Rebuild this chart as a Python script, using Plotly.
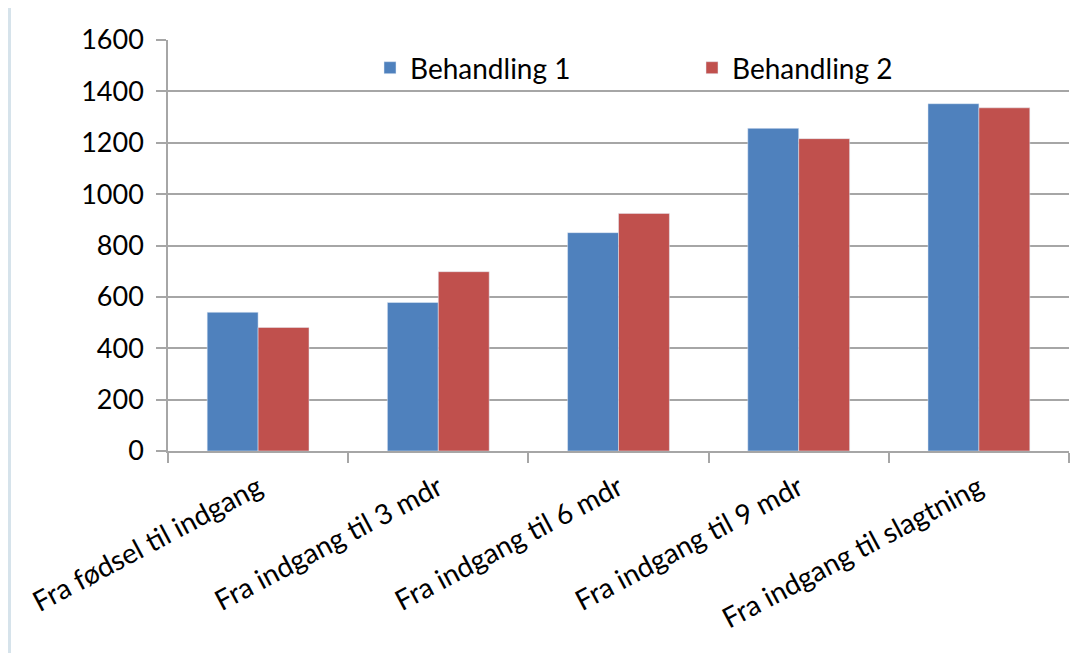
import plotly.graph_objects as go

categories = [
    "Fra fødsel til indgang",
    "Fra indgang til 3 mdr",
    "Fra indgang til 6 mdr",
    "Fra indgang til 9 mdr",
    "Fra indgang til slagtning",
]
behandling_1 = [540, 578, 850, 1256, 1352]
behandling_2 = [481, 698, 925, 1216, 1336]

BLUE = "#4f81bd"
RED = "#c0504d"
GRID = "#a6a6a6"
BORDER = "#d6e3eb"
FONT = "Lato, Carlito, Calibri, sans-serif"

# the page puts the figure 8px in from the top-left corner
W, H = 1076, 645
ML, MR, MT, MB = 160, 15, 32, 202
pw = W - ML - MR
ph = H - MT - MB


def px_x(x):
    return (x - ML) / pw


def px_y(y):
    return (MT + ph - y) / ph


fig = go.Figure()
fig.add_trace(go.Bar(x=categories, y=behandling_1, name="Behandling 1", marker_color=BLUE))
fig.add_trace(go.Bar(x=categories, y=behandling_2, name="Behandling 2", marker_color=RED))

# light blue frame at the left edge
fig.add_shape(
    type="rect", xref="paper", yref="paper",
    x0=px_x(-5), x1=px_x(3), y0=px_y(H + 5), y1=px_y(-5),
    fillcolor=BORDER, line_width=0, layer="below",
)

fig.update_layout(
    width=W,
    height=H,
    margin=dict(l=ML, r=MR, t=MT, b=MB, autoexpand=False),
    paper_bgcolor="white",
    plot_bgcolor="white",
    font=dict(family=FONT, size=28, color="#000000"),
    barmode="group",
    bargap=0.435,
    bargroupgap=0,
    legend=dict(
        orientation="h",
        x=px_x(362),
        y=px_y(60),
        xanchor="left",
        yanchor="middle",
        entrywidth=277,
        entrywidthmode="pixels",
        bgcolor="rgba(0,0,0,0)",
        font=dict(size=28),
        itemwidth=30,
    ),
    showlegend=True,
)
fig.update_xaxes(
    automargin=False,
    tickangle=-28,
    tickfont=dict(size=28),
    ticklabelstandoff=8,
    showline=True,
    linecolor=GRID,
    linewidth=1.5,
    ticks="outside",
    tickson="boundaries",
    ticklen=10,
    tickcolor=GRID,
    tickwidth=1.5,
    showgrid=False,
)
fig.update_yaxes(
    automargin=False,
    range=[0, 1600],
    dtick=200,
    tickfont=dict(size=27),
    ticklabelstandoff=7,
    showline=True,
    linecolor=GRID,
    linewidth=1.5,
    ticks="outside",
    ticklen=10,
    tickcolor=GRID,
    tickwidth=1.5,
    gridcolor=GRID,
    gridwidth=1.5,
    zeroline=False,
)

fig.write_html("out.html")
